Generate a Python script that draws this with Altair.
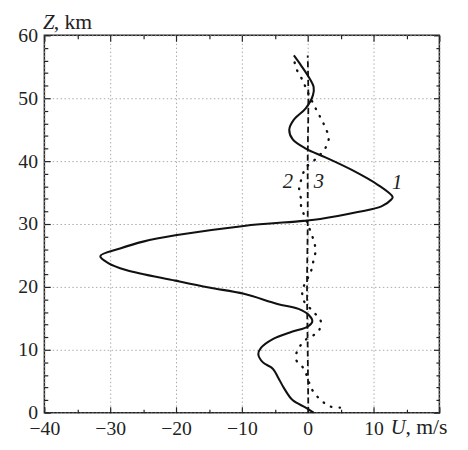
import altair as alt
import pandas as pd

# Curve 1 (solid)
z1 = [0.0, 0.8, 2.0, 3.9, 5.6, 7.0, 8.0, 9.3, 10.3, 11.7, 12.9, 13.7, 14.5, 15.5, 16.5,
      17.3, 18.9, 19.9, 21.0, 22.7, 23.8, 24.9, 26.1, 27.2, 28.2, 29.7, 30.5, 30.8,
      31.9, 32.8, 33.9, 34.3, 36.2, 38.6, 40.6, 42.0, 43.5, 45.0, 46.6, 48.4,
      50.5, 51.8, 53.3, 55.2, 56.8]
u1 = [0.9, -0.3, -2.3, -3.6, -4.5, -5.3, -6.8, -7.5, -7.1, -5.3, -2.3, 0.0, 0.7, 0.2, -1.4,
      -4.6, -9.7, -15.0, -20.1, -27.6, -30.3, -31.5, -28.5, -25.0, -20.1, -9.7, -0.6, 1.9,
      7.6, 11.2, 12.7, 12.9, 10.7, 6.7, 2.7, -0.3, -2.3, -2.8, -2.1, -0.3,
      0.8, 0.9, 0.2, -1.0, -2.1]

# Curve 2 (dashed)
z2 = [0.0, 10.0, 20.0, 30.0, 40.0, 50.0, 56.8]
u2 = [0.1, 0.0, -0.1, 0.0, 0.0, 0.1, 0.0]

# Curve 3 (dotted)
z3 = [0.8, 1.0, 2.0, 3.6, 7.0, 8.5, 10.0, 11.6, 12.9, 14.5, 16.0, 17.8, 19.4, 22.5, 24.3,
      25.8, 27.4, 30.8, 32.8, 33.9, 35.5, 37.0, 38.9, 40.6, 42.1, 43.7, 45.3, 46.8,
      48.4, 51.0, 52.9, 54.9, 56.5]
u3 = [4.9, 3.4, 2.0, 0.7, -0.6, -1.8, -1.5, -0.3, 1.6, 2.0, 0.9, -0.6, -0.8, 0.5, 0.9,
      1.2, 0.9, -0.3, -1.0, -1.0, -1.3, -1.0, -0.3, 1.5, 2.7, 3.2, 2.7, 2.0,
      1.2, 0.0, -0.8, -1.8, -2.1]

# Curve labels
lab_text = ["1", "2", "3"]
lab_u = [13.6, -3.0, 1.7]
lab_z = [36.5, 36.7, 36.7]

x_major = [-40, -30, -20, -10, 0, 10, 20]
x_minor = [-35, -25, -15, -5, 5, 15]
y_major = [0, 10, 20, 30, 40, 50, 60]
y_minor = [2, 4, 6, 8, 12, 14, 16, 18, 22, 24, 26, 28, 32, 34, 36, 38, 42, 44, 46, 48, 52, 54, 56, 58]

FONT = "Liberation Serif"
FS = 20
TFS = 21
MAJ = 6
MIN = 3.5
W, H = 402, 384
TY = 21  # title baseline below plot bottom

d1 = pd.DataFrame({"U": u1, "Z": z1})
d2 = pd.DataFrame({"U": u2, "Z": z2})
d3 = pd.DataFrame({"U": u3, "Z": z3})
dl = pd.DataFrame({"U": lab_u, "Z": lab_z, "t": lab_text})

xs = alt.Scale(domain=[-40, 20], nice=False, zero=False)
ys = alt.Scale(domain=[0, 60], nice=False, zero=False)


def tick_axis(orient, values, size):
    return alt.Axis(orient=orient, values=values, labels=False, domain=False, grid=False,
                    ticks=True, tickSize=size, offset=-size, tickColor="#222",
                    tickWidth=1.2, title="")


x_main = alt.Axis(orient="bottom", values=x_major, domain=False, ticks=False, grid=True,
                  gridDash=[1.5, 2.5], gridColor="#aaaaaa", gridWidth=1,
                  labelExpr="datum.value == 20 ? '' : datum.label",
                  labelFont=FONT, labelFontSize=FS, labelColor="#222", labelPadding=6,
                  labelFlush=False, labelOverlap=False,
                  title="U", titleFont=FONT, titleFontSize=TFS, titleFontStyle="italic",
                  titleFontWeight="normal", titleColor="#222", titleX=352, titleY=TY,
                  titleAlign="left", titleBaseline="alphabetic")
y_main = alt.Axis(orient="left", values=y_major, domain=False, ticks=False, grid=True,
                  gridDash=[1.5, 2.5], gridColor="#aaaaaa", gridWidth=1,
                  labelFont=FONT, labelFontSize=FS, labelColor="#222", labelPadding=7,
                  labelFlush=False, labelOverlap=False,
                  title="Z", titleFont=FONT, titleFontSize=TFS, titleFontStyle="italic",
                  titleFontWeight="normal", titleColor="#222", titleAngle=0, titleX=-2,
                  titleY=-7, titleAlign="left", titleBaseline="alphabetic")

x_maj_b = alt.Axis(orient="bottom", values=x_major, labels=False, domain=False, grid=False,
                   ticks=True, tickSize=MAJ, offset=-MAJ, tickColor="#222", tickWidth=1.2,
                   title=", m/s", titleFont=FONT, titleFontSize=TFS + 1, titleFontWeight="normal",
                   titleColor="#222", titleX=367, titleY=TY + MAJ, titleAlign="left",
                   titleBaseline="alphabetic")
y_maj_l = alt.Axis(orient="left", values=y_major, labels=False, domain=False, grid=False,
                   ticks=True, tickSize=MAJ, offset=-MAJ, tickColor="#222", tickWidth=1.2,
                   title=", km", titleFont=FONT, titleFontSize=TFS + 1, titleFontWeight="normal",
                   titleColor="#222", titleAngle=0, titleX=9 - MAJ, titleY=-7,
                   titleAlign="left", titleBaseline="alphabetic")

line1 = alt.Chart(d1).mark_line(color="#111", strokeWidth=2.1, interpolate="catmull-rom").encode(
    x=alt.X("U:Q", scale=xs, axis=x_main),
    y=alt.Y("Z:Q", scale=ys, axis=y_main),
    order="Z:Q",
)
line2 = alt.Chart(d2).mark_line(color="#111", strokeWidth=1.8, strokeDash=[6, 3.5],
                                interpolate="catmull-rom").encode(
    x=alt.X("U:Q", scale=xs, axis=x_maj_b),
    y=alt.Y("Z:Q", scale=ys, axis=y_maj_l),
    order="Z:Q",
)
line3 = alt.Chart(d3).mark_line(color="#111", strokeWidth=2.4, strokeDash=[0.6, 8],
                                strokeCap="round", interpolate="catmull-rom").encode(
    x=alt.X("U:Q", scale=xs, axis=tick_axis("bottom", x_minor, MIN)),
    y=alt.Y("Z:Q", scale=ys, axis=tick_axis("left", y_minor, MIN)),
    order="Z:Q",
)
labels = alt.Chart(dl).mark_text(font=FONT, fontSize=TFS, fontStyle="italic", color="#222",
                                 align="center", baseline="middle").encode(
    x=alt.X("U:Q", scale=xs, axis=tick_axis("top", x_major, MAJ)),
    y=alt.Y("Z:Q", scale=ys, axis=tick_axis("right", y_major, MAJ)),
    text="t:N",
)
ghost = alt.Chart(dl).mark_point(opacity=0).encode(
    x=alt.X("U:Q", scale=xs, axis=tick_axis("top", x_minor, MIN)),
    y=alt.Y("Z:Q", scale=ys, axis=tick_axis("right", y_minor, MIN)),
)

chart = alt.layer(line1, line2, line3, labels, ghost).resolve_axis(
    x="independent", y="independent"
).properties(
    width=W, height=H,
    autosize=alt.AutoSizeParams(type="none"),
    padding={"left": 37, "top": 24, "right": 21, "bottom": 26},
    background="white",
).configure_view(stroke="#222", strokeWidth=1.5)

chart.save("out.html", embed_options={"renderer": "svg", "actions": False})
